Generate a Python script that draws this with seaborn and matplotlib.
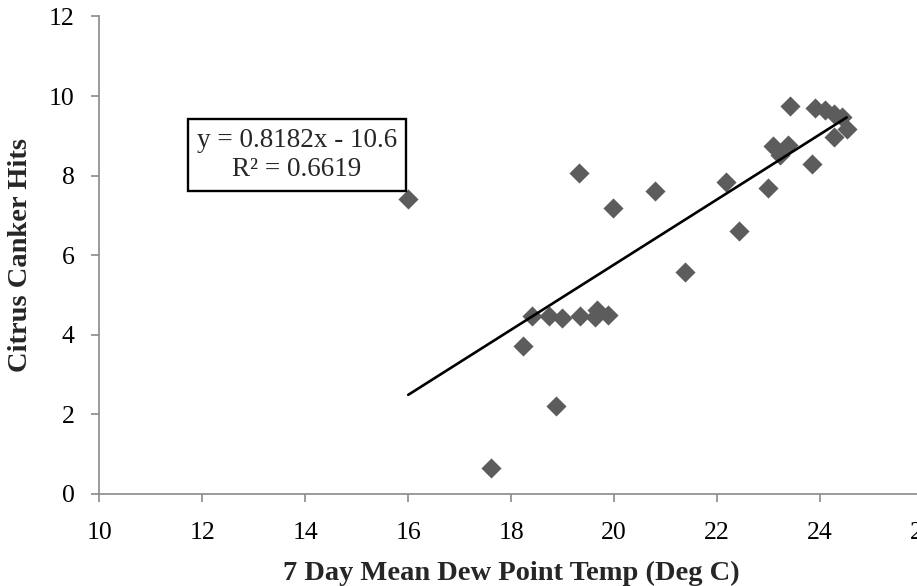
import numpy as np
import pandas as pd
import matplotlib
matplotlib.use("Agg")
import matplotlib.pyplot as plt
import seaborn as sns

# ---- data ----
dew_point = [16.00, 17.61, 18.23, 18.88, 18.40, 18.73, 18.98, 19.33, 19.62, 19.66,
             19.88, 19.31, 19.97, 20.79, 21.38, 22.17, 22.43, 23.00, 23.09, 23.38,
             23.22, 23.41, 23.85, 23.90, 24.10, 24.28, 24.42, 24.28, 24.52]
canker_hits = [7.40, 0.65, 3.73, 2.20, 4.47, 4.47, 4.43, 4.48, 4.44, 4.63,
               4.49, 8.06, 7.19, 7.61, 5.57, 7.85, 6.62, 7.70, 8.75, 8.77,
               8.52, 9.75, 8.29, 9.69, 9.65, 9.56, 9.46, 8.96, 9.18]
trend_slope = 0.8182
trend_intercept = -10.6
r_squared = 0.6619
x_ticks = [10, 12, 14, 16, 18, 20, 22, 24, 26]
y_ticks = [0, 2, 4, 6, 8, 10, 12]

df = pd.DataFrame({"x": dew_point, "y": canker_hits})

sns.set_style("white")
plt.rcParams["font.family"] = ["Liberation Serif", "DejaVu Serif"]

fig = plt.figure(figsize=(9.17, 5.86), dpi=100)
ax = fig.add_axes([0.1084, 0.157, 0.898, 0.815])

sns.scatterplot(data=df, x="x", y="y", marker="D", s=105, color="#5c5c5c",
                linewidth=0, ax=ax, zorder=3)

xt = np.array([min(dew_point), max(dew_point)])
trend = pd.DataFrame({"x": xt, "y": trend_slope * xt + trend_intercept})
sns.lineplot(data=trend, x="x", y="y", color="black", linewidth=1.9, ax=ax, zorder=4)

ax.set_xlim(10, 26)
ax.set_ylim(0, 12)
ax.set_xticks(x_ticks)
ax.set_yticks(y_ticks)
ax.set_xticklabels([str(t) for t in x_ticks])
ax.set_yticklabels([str(t) for t in y_ticks])

for s in ["top", "right"]:
    ax.spines[s].set_visible(False)
for s in ["left", "bottom"]:
    ax.spines[s].set_color("#8a8a8a")
    ax.spines[s].set_linewidth(1.2)

ax.tick_params(axis="both", which="major", direction="out", length=6, width=1.2,
               color="#8a8a8a", labelsize=18.5, labelcolor="black")
ax.tick_params(axis="x", pad=14)
ax.tick_params(axis="y", pad=12)
ax.tick_params(bottom=True, left=True)

ax.set_xlabel("7 Day Mean Dew Point Temp (Deg C)", fontsize=20.5, fontweight="bold",
              labelpad=12)
ax.set_ylabel("Citrus Canker Hits", fontsize=20.5, fontweight="bold", labelpad=11)

ax.text(13.84, 8.52, f"y = {trend_slope}x - {abs(trend_intercept)}\nR² = {r_squared}",
        ha="center", va="center", multialignment="center", fontsize=19.5,
        linespacing=1.25, zorder=5,
        bbox=dict(boxstyle="square,pad=0.33", fc="white", ec="black", lw=1.7))

fig.savefig("out.png", dpi=100)
